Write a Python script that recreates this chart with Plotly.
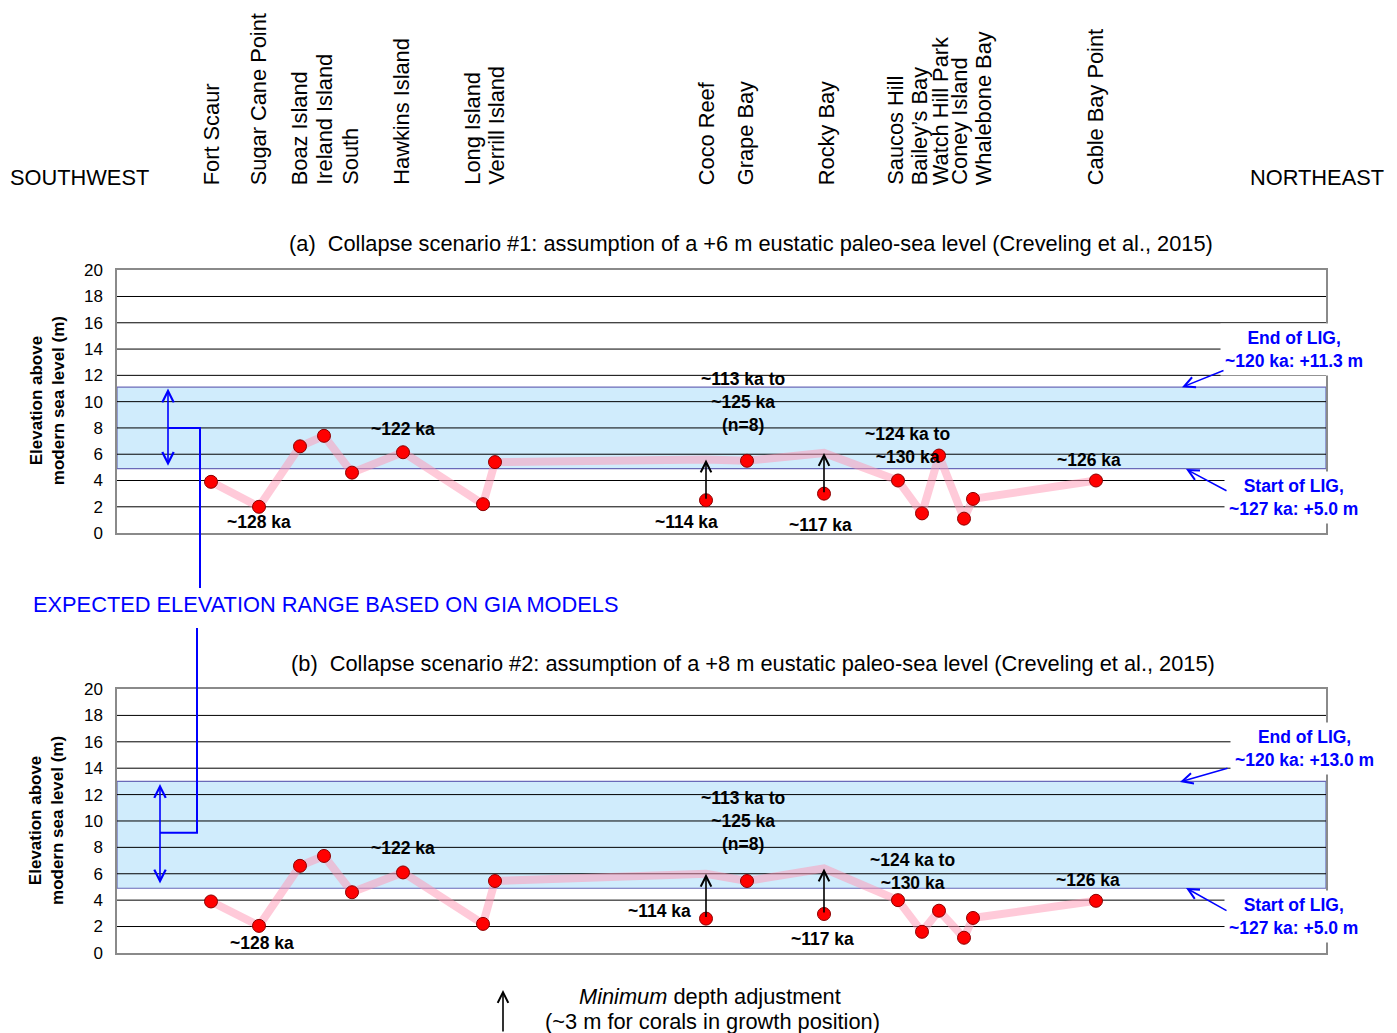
import plotly.graph_objects as go

W, H = 1397, 1033
FONT = "Liberation Sans"

# ---------------- data ----------------
sites = ["Fort Scaur", "Sugar Cane Point", "Boaz Island", "Ireland Island", "South",
         "Hawkins Island", "Long Island", "Verrill Island", "Coco Reef", "Grape Bay",
         "Rocky Bay", "Saucos Hill", "Bailey’s Bay", "Watch Hill Park", "Coney Island",
         "Whalebone Bay", "Cable Bay Point"]
site_pos = [94, 142, 183, 207, 235, 286, 366, 378, 589, 630, 707, 781, 805, 822, 847, 856, 979]
label_pos = [94, 141, 182, 208, 234, 285, 356, 380, 589, 628, 709, 779, 802, 823, 843, 866, 978]

elev_a = [3.9, 2.0, 6.6, 7.4, 4.6, 6.15, 2.2, 5.4, 2.5, 5.5, 3.0, 4.0, 1.5, 5.9, 1.1, 2.6, 4.0]
elev_b = [3.9, 2.05, 6.6, 7.35, 4.6, 6.1, 2.2, 5.45, 2.6, 5.45, 2.95, 4.0, 1.6, 3.2, 1.15, 2.65, 3.95]

adj_sites = ["Coco Reef", "Rocky Bay"]
adj_top_a = [5.6, 6.1]
adj_top_b = [6.0, 6.4]

band_a = (4.9, 11.1)
band_b = (4.9, 13.0)
gia_a = (5.0, 11.0)
gia_b = (5.15, 12.8)

ka_text_a = ["~128 ka", "~122 ka", "~113 ka to<br>~125 ka<br>(n=8)", "~114 ka", "~117 ka",
             "~124 ka to<br>~130 ka", "~123 ka", "~120 ka", "~126 ka"]
ka_pos_a = [142, 286, 626, 569, 703, 790, 823, 855, 972]
ka_val_a = [0.84, 7.9, 10.0, 0.84, 0.61, 6.7, -1.2, -2.8, 5.55]

ka_text_b = ["~128 ka", "~122 ka", "~113 ka to<br>~125 ka<br>(n=8)", "~114 ka", "~117 ka",
             "~124 ka to<br>~130 ka", "~123 ka", "~120 ka", "~126 ka"]
ka_pos_b = [145, 286, 626, 542, 705, 795, 828, 854, 971]
ka_val_b = [0.76, 7.95, 10.0, 3.2, 1.06, 6.2, -0.9, -3.0, 5.5]

yticks = list(range(0, 21, 2))

title_a = "(a)  Collapse scenario #1: assumption of a +6 m eustatic paleo-sea level (Creveling et al., 2015)"
title_b = "(b)  Collapse scenario #2: assumption of a +8 m eustatic paleo-sea level (Creveling et al., 2015)"
lig_a = ["<b>End of LIG,<br>~120 ka: +11.3 m</b>", "<b>Start of LIG,<br>~127 ka: +5.0 m</b>"]
lig_b = ["<b>End of LIG,<br>~120 ka: +13.0 m</b>", "<b>Start of LIG,<br>~127 ka: +5.0 m</b>"]

# ---------------- helpers ----------------
Y_SCALE, Y_OFF = 0.982, 7.7   # compensation for observed vertical mapping of the capture

def px(p):
    return p / W

def py(p):
    return 1 - ((p - Y_OFF) / Y_SCALE) / H

dom_a = [py(532), py(269)]
dom_b = [py(952), py(688)]

def val2paper(v, dom):
    return dom[0] + v / 20.0 * (dom[1] - dom[0])

fig = go.Figure()

PINK = "rgba(255,150,180,0.5)"

def trend(elev, tops):
    t = list(elev)
    for s, v in zip(adj_sites, tops):
        t[sites.index(s)] = v
    return t

for elev, tops, xa, ya in [(elev_a, adj_top_a, "x", "y"), (elev_b, adj_top_b, "x2", "y2")]:
    fig.add_trace(go.Scatter(x=site_pos, y=trend(elev, tops), mode="lines",
                             line=dict(color=PINK, width=8), xaxis=xa, yaxis=ya,
                             hoverinfo="skip", showlegend=False))
    fig.add_trace(go.Scatter(x=site_pos, y=elev, mode="markers",
                             marker=dict(size=13, color="#ff0000", line=dict(color="#8b0000", width=1)),
                             xaxis=xa, yaxis=ya, showlegend=False, text=sites))

axis_common = dict(showline=True, mirror=True, linecolor="#8a8a8a", linewidth=1.5, zeroline=False)
fig.update_layout(
    width=W, height=H, margin=dict(l=0, r=0, t=0, b=0),
    paper_bgcolor="white", plot_bgcolor="white",
    font=dict(family=FONT, color="black"),
    xaxis=dict(domain=[px(117), px(1326)], range=[0, 1209], showticklabels=False, showgrid=False,
               ticks="", anchor="y", **axis_common),
    xaxis2=dict(domain=[px(117), px(1326)], range=[0, 1209], showticklabels=False, showgrid=False,
                ticks="", anchor="y2", **axis_common),
    yaxis=dict(domain=dom_a, range=[0, 20], tickvals=yticks, showgrid=False, ticks="outside",
               ticklen=9, tickcolor="rgba(0,0,0,0)", tickfont=dict(size=17, family=FONT),
               anchor="x", **axis_common),
    yaxis2=dict(domain=dom_b, range=[0, 20], tickvals=yticks, showgrid=False, ticks="outside",
                ticklen=9, tickcolor="rgba(0,0,0,0)", tickfont=dict(size=17, family=FONT),
                anchor="x2", **axis_common),
)

shapes = []
for band, yr, xr in [(band_a, "y", "x"), (band_b, "y2", "x2")]:
    shapes.append(dict(type="rect", xref=xr + " domain", yref=yr, x0=0, x1=1, y0=band[0], y1=band[1],
                       fillcolor="#d0ecfc", line=dict(color="#6a6ab8", width=1.2), layer="below"))
    for v in yticks[1:-1]:
        shapes.append(dict(type="line", xref=xr + " domain", yref=yr, x0=0, x1=1, y0=v, y1=v,
                           line=dict(color="black", width=1), layer="below"))

BLUE = "#0000ff"
ya8 = val2paper(8.0, dom_a)
shapes.append(dict(type="path", xref="paper", yref="paper",
                   path=f"M {px(168)},{ya8} L {px(200)},{ya8} L {px(200)},{py(587)}",
                   line=dict(color=BLUE, width=2)))
yb9 = val2paper(9.1, dom_b)
shapes.append(dict(type="path", xref="paper", yref="paper",
                   path=f"M {px(160)},{yb9} L {px(197)},{yb9} L {px(197)},{py(627)}",
                   line=dict(color=BLUE, width=2)))
fig.update_layout(shapes=shapes)

ann = []

def txt(text, x, y, size=21.8, color="black", xanchor="center", yanchor="middle", **kw):
    d = dict(text=text, x=x, y=y, xref=kw.pop("xref", "paper"), yref=kw.pop("yref", "paper"),
             xanchor=xanchor, yanchor=yanchor, showarrow=False,
             font=dict(size=size, color=color, family=FONT))
    d.update(kw)
    ann.append(d)

# site labels
for name, p in zip(sites, label_pos):
    txt(name, p, py(186), xref="x", yanchor="bottom", textangle=-90)
txt("SOUTHWEST", px(8), py(176), xanchor="left")
txt("NORTHEAST", px(1386), py(176), xanchor="right")
txt(title_a, px(751), py(242))
txt(title_b, px(753), py(662))
for cy in (400, 820):
    txt("<b>Elevation above<br>modern sea level (m)</b>", px(47), py(cy), size=17, textangle=-90)
for texts, poss, vals, xr, yr in [(ka_text_a, ka_pos_a, ka_val_a, "x", "y"),
                                  (ka_text_b, ka_pos_b, ka_val_b, "x2", "y2")]:
    for t, p, v in zip(texts, poss, vals):
        txt("<b>" + t + "</b>", p, v, size=17.5, xref=xr, yref=yr)
# depth adjustment arrows
for elev, tops, xr, yr in [(elev_a, adj_top_a, "x", "y"), (elev_b, adj_top_b, "x2", "y2")]:
    for s, top in zip(adj_sites, tops):
        i = sites.index(s)
        ann.append(dict(text="", x=site_pos[i], y=top, ax=site_pos[i], ay=elev[i], xref=xr, yref=yr,
                        axref=xr, ayref=yr, showarrow=True, arrowhead=5, arrowsize=1.3,
                        arrowwidth=1.6, arrowcolor="black"))
# GIA double arrows
for g, p, xr, yr in [(gia_a, 51, "x", "y"), (gia_b, 43, "x2", "y2")]:
    ann.append(dict(text="", x=p, y=g[1], ax=p, ay=g[0], xref=xr, yref=yr, axref=xr, ayref=yr,
                    showarrow=True, arrowhead=5, startarrowhead=5, arrowside="end+start",
                    arrowsize=1.4, startarrowsize=1.4, arrowwidth=1.6, arrowcolor=BLUE))
txt("EXPECTED ELEVATION RANGE BASED ON GIA MODELS", px(31), py(603), color=BLUE, xanchor="left")
# LIG labels
lig_layout = [(lig_a[0], 1294, 348), (lig_a[1], 1293, 496), (lig_b[0], 1304, 747), (lig_b[1], 1293, 916)]
for t, cx, cy in lig_layout:
    txt(t, px(cx), py(cy), size=17.5, color=BLUE, bgcolor="white", borderpad=4)
lig_arrows = [((1182, 386), (1225, 369)), ((1186, 468), (1228, 490)),
              ((1180, 781), (1229, 767)), ((1186, 887), (1228, 910))]
for tip, tail in lig_arrows:
    ann.append(dict(text="", x=px(tip[0]), y=py(tip[1]), xref="paper", yref="paper",
                    ax=tail[0] - tip[0], ay=(tail[1] - tip[1]) / Y_SCALE, showarrow=True, arrowhead=5,
                    arrowsize=1.4, arrowwidth=1.5, arrowcolor=BLUE))
# legend
ann.append(dict(text="", x=px(503), y=py(989), xref="paper", yref="paper", ax=0, ay=43,
                showarrow=True, arrowhead=5, arrowsize=1.3, arrowwidth=1.6, arrowcolor="black"))
txt("<i>Minimum</i> depth adjustment", px(710), py(996))
txt("(~3 m for corals in growth position)", px(712), py(1021))

fig.update_layout(annotations=ann)
fig.write_html("out.html", config={"displayModeBar": False},
               post_script="document.body.style.margin='0';document.body.style.overflow='hidden';")
